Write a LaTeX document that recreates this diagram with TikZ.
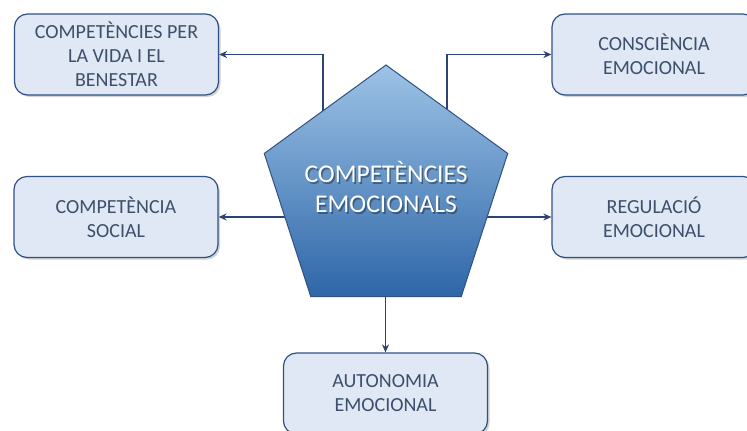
\documentclass[tikz,border=0pt]{standalone}
\usepackage{fontspec}
\setmainfont{Carlito}
\usetikzlibrary{shapes.geometric, arrows.meta, shadows, backgrounds}

\definecolor{cajafondo}{HTML}{DFE8F4}
\definecolor{cajaborde}{HTML}{2F5183}
\definecolor{textocaja}{HTML}{3E4F6C}
\definecolor{flecha}{HTML}{2B4473}
\definecolor{pentarriba}{HTML}{9DC3E6}
\definecolor{pentabajo}{HTML}{2E66A8}

\begin{document}
\begin{tikzpicture}[x=1pt, y=-1pt,
    caja/.style={draw=cajaborde, line width=1.2pt, fill=cajafondo,
        rounded corners=13pt, minimum width=204pt, minimum height=81pt,
        inner sep=0pt, align=center, text=textocaja,
        font=\fontsize{20}{24}\selectfont,
        drop shadow={opacity=0.35, shadow xshift=2pt, shadow yshift=-2pt}},
    centro/.style={regular polygon, regular polygon sides=5,
        minimum size=256pt, inner sep=0pt, draw=cajaborde, line width=1pt,
        top color=pentarriba, bottom color=pentabajo, shading angle=0},
    titulo/.style={align=center, font=\fontsize{25.5}{30}\selectfont},
    conn/.style={draw=flecha, line width=1.3pt,
        -{Stealth[length=8pt, width=7pt]}}]

    % Marco de la figura
    \useasboundingbox (0,0) rectangle (747,431);
    \clip (0,0) rectangle (747,431);

    % Figura central
    \node[centro] (comp) at (386,193) {};
    \node[titulo, text=black, opacity=0.35] (sombra) at (387.5,188.5)
        {COMPETÈNCIES\\EMOCIONALS};
    \node[titulo, text=white] (titulo) at (386,187)
        {COMPETÈNCIES\\EMOCIONALS};

    % Cajas alrededor
    \node[caja] (vida) at (116.5,54.5) {COMPETÈNCIES PER\\LA VIDA I EL\\BENESTAR};
    \node[caja] (consc) at (654,54.5) {CONSCIÈNCIA\\EMOCIONAL};
    \node[caja] (social) at (116,217) {COMPETÈNCIA\\SOCIAL};
    \node[caja] (regul) at (654,217) {REGULACIÓ\\EMOCIONAL};
    \node[caja] (auton) at (385.5,393.5) {AUTONOMIA\\EMOCIONAL};

    % Conectores (por debajo del pentagono)
    \begin{scope}[on background layer]
        \draw[conn] ([xshift=-63pt]comp.center) |- (vida.east);
        \draw[conn] ([xshift=61pt]comp.center) |- (consc.west);
        \draw[conn] (comp.center |- social.east) -- (social.east);
        \draw[conn] (comp.center |- regul.west) -- (regul.west);
        \draw[conn] (auton.north |- comp.center) -- (auton.north);
    \end{scope}
\end{tikzpicture}
\end{document}
